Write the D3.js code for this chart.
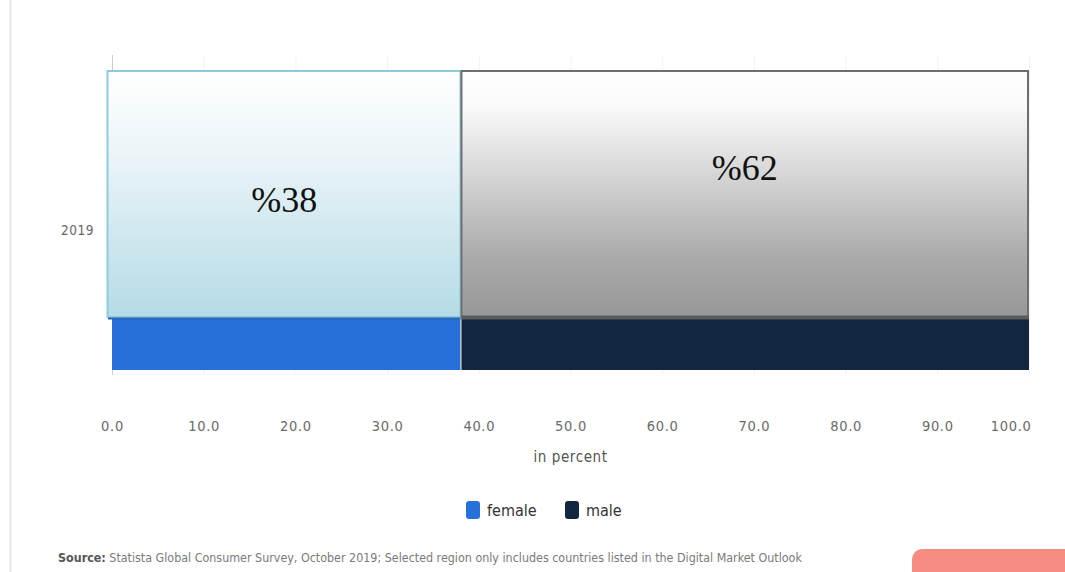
<!DOCTYPE html>
<html><head><meta charset="utf-8">
<script src="https://cdn.jsdelivr.net/npm/d3@7"></script>
<style>html,body{margin:0;padding:0;background:#fff;}svg{display:block;}</style>
</head><body>
<svg id="chart" width="1065" height="572"></svg>
<script>
const categories = ["2019"];
const seriesNames = ["female", "male"];
const femaleValues = [38];
const maleValues = [62];
const tickValues = [0, 10, 20, 30, 40, 50, 60, 70, 80, 90, 100];
const annotationLabels = ["%38", "%62"];
const seriesColors = ["#2671d9", "#12263f"];

const svg = d3.select("#chart");
const W = 1065, H = 572;
const sansFont = "'DejaVu Sans Condensed', 'DejaVu Sans', sans-serif";

// left page border
svg.append("line").attr("x1", 10.5).attr("x2", 10.5).attr("y1", 0).attr("y2", H)
  .attr("stroke", "#e6e6e6").attr("stroke-width", 2);

const x = d3.scaleLinear().domain([0, 100]).range([112, 1029]);
const y = d3.scaleBand().domain(categories).range([92, 370]).padding(0);
const gridTop = 55, gridBottom = 375;

// gridlines
svg.append("g").selectAll("line").data(tickValues.slice(1)).join("line")
  .attr("x1", d => x(d) + 0.5).attr("x2", d => x(d) + 0.5)
  .attr("y1", gridTop).attr("y2", gridBottom)
  .attr("stroke", "#f3f3f3").attr("stroke-width", 1);
// y axis line
svg.append("line").attr("x1", x(0) + 0.5).attr("x2", x(0) + 0.5)
  .attr("y1", gridTop).attr("y2", gridBottom).attr("stroke", "#cccccc");

// x axis tick labels
const xAxis = d3.axisBottom(x).tickValues(tickValues).tickFormat(d3.format(".1f")).tickSize(0).tickPadding(0);
const gx = svg.append("g").attr("transform", `translate(0,${gridBottom + 46})`).call(xAxis);
gx.select(".domain").remove();
gx.selectAll("text").attr("font-family", sansFont)
  .attr("font-size", 14.5).attr("fill", "#6a6a6a").attr("letter-spacing", 0.7)
  .attr("text-anchor", d => d === 100 ? "end" : "middle")
  .attr("dx", d => d === 100 ? 2 : 0);

// y axis label
const yAxis = d3.axisLeft(y).tickSize(0).tickPadding(18);
const gy = svg.append("g").attr("transform", `translate(${x(0)},0)`).call(yAxis);
gy.select(".domain").remove();
gy.selectAll("text").attr("font-family", sansFont)
  .attr("font-size", 13.5).attr("fill", "#666").attr("letter-spacing", 0.5);

// stacked bars
const rows = categories.map((c, i) => ({ cat: c, female: femaleValues[i], male: maleValues[i] }));
const stack = d3.stack().keys(seriesNames)(rows);
svg.append("g").selectAll("g").data(stack).join("g")
  .attr("fill", (d, i) => seriesColors[i])
  .selectAll("rect").data(d => d).join("rect")
  .attr("x", d => x(d[0])).attr("width", d => x(d[1]) - x(d[0]))
  .attr("y", d => y(d.data.cat)).attr("height", y.bandwidth());
// thin white separator
svg.append("line").attr("x1", x(femaleValues[0]) + 0.5).attr("x2", x(femaleValues[0]) + 0.5)
  .attr("y1", y(categories[0])).attr("y2", y(categories[0]) + y.bandwidth()).attr("stroke", "#fff").attr("stroke-width", 1);

// gradients for overlay boxes
const defs = svg.append("defs");
const g1 = defs.append("linearGradient").attr("id", "gFem").attr("x1", 0).attr("y1", 0).attr("x2", 0).attr("y2", 1);
g1.append("stop").attr("offset", "0%").attr("stop-color", "#ffffff");
g1.append("stop").attr("offset", "30%").attr("stop-color", "#eef6f9");
g1.append("stop").attr("offset", "100%").attr("stop-color", "#b4dbe6");
const g2 = defs.append("linearGradient").attr("id", "gMale").attr("x1", 0).attr("y1", 0).attr("x2", 0).attr("y2", 1);
g2.append("stop").attr("offset", "0%").attr("stop-color", "#ffffff");
g2.append("stop").attr("offset", "15%").attr("stop-color", "#f9f9f9");
g2.append("stop").attr("offset", "45%").attr("stop-color", "#d2d2d2");
g2.append("stop").attr("offset", "75%").attr("stop-color", "#ababab");
g2.append("stop").attr("offset", "100%").attr("stop-color", "#979797");

// overlay annotation boxes
const boxTop = 71, boxBottom = 317;
const cum = [0, femaleValues[0], femaleValues[0] + maleValues[0]];
svg.append("rect").attr("x", x(cum[0]) - 4.5).attr("y", boxTop)
  .attr("width", x(cum[1]) - x(cum[0]) + 4.5).attr("height", boxBottom - boxTop)
  .attr("fill", "url(#gFem)").attr("stroke", "#8ecbdb").attr("stroke-width", 2);
svg.append("rect").attr("x", x(cum[1]) + 1).attr("y", boxTop)
  .attr("width", x(cum[2]) - x(cum[1]) - 2).attr("height", boxBottom - boxTop)
  .attr("fill", "url(#gMale)").attr("stroke", "#6e6e6e").attr("stroke-width", 2);
// darker bottom edges
svg.append("line").attr("x1", x(cum[0]) - 4).attr("x2", x(cum[1]))
  .attr("y1", boxBottom + 1.5).attr("y2", boxBottom + 1.5).attr("stroke", "#2a66b8").attr("stroke-width", 2);
svg.append("line").attr("x1", x(cum[1]) + 1).attr("x2", x(cum[2]))
  .attr("y1", boxBottom + 0.5).attr("y2", boxBottom + 0.5).attr("stroke", "#5b5b5b").attr("stroke-width", 4);

// annotation texts
svg.append("text").attr("x", (x(cum[0]) + x(cum[1])) / 2 - 2).attr("y", 212)
  .attr("text-anchor", "middle").attr("font-family", "'Liberation Serif', 'DejaVu Serif', serif")
  .attr("font-size", 36).attr("fill", "#111").text(annotationLabels[0]);
svg.append("text").attr("x", (x(cum[1]) + x(cum[2])) / 2).attr("y", 180)
  .attr("text-anchor", "middle").attr("font-family", "'Liberation Serif', 'DejaVu Serif', serif")
  .attr("font-size", 36).attr("fill", "#111").text(annotationLabels[1]);

// axis title
svg.append("text").attr("x", (x(0) + x(100)) / 2).attr("y", 462).attr("text-anchor", "middle")
  .attr("font-family", sansFont).attr("font-size", 15)
  .attr("fill", "#555").attr("letter-spacing", 0.6).text("in percent");

// legend
const legendX = [466, 565];
const lg = svg.append("g").selectAll("g").data(seriesNames).join("g")
  .attr("transform", (d, i) => `translate(${legendX[i]},501)`);
lg.append("rect").attr("width", 14).attr("height", 18).attr("rx", 3)
  .attr("fill", (d, i) => seriesColors[i]);
lg.append("text").attr("x", 21).attr("y", 15)
  .attr("font-family", sansFont).attr("font-size", 16)
  .attr("fill", "#333").text(d => d);

// source
const src = svg.append("text").attr("x", 58).attr("y", 562)
  .attr("font-family", sansFont).attr("font-size", 12.4)
  .attr("fill", "#7a7a7a");
src.append("tspan").attr("font-weight", "bold").attr("fill", "#555").text("Source:");
src.append("tspan").text(" Statista Global Consumer Survey, October 2019; Selected region only includes countries listed in the Digital Market Outlook");

// corner button
svg.append("rect").attr("x", 912).attr("y", 549).attr("width", 170).attr("height", 40).attr("rx", 10)
  .attr("fill", "#f48c7f");
</script>
</body></html>
